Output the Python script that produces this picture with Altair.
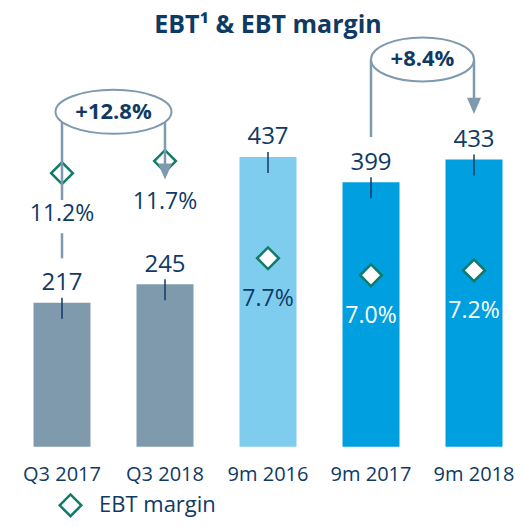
import altair as alt
import pandas as pd

# ---- data ----
categories = ["Q3 2017", "Q3 2018", "9m 2016", "9m 2017", "9m 2018"]
ebt = [217, 245, 437, 399, 433]
ebt_margin = [11.2, 11.7, 7.7, 7.0, 7.2]
bar_colors = ["#7f9aad", "#7f9aad", "#7fcdee", "#009fdf", "#009fdf"]

growth_labels = ["+12.8%", "+8.4%"]
growth_from = ["Q3 2017", "9m 2017"]
growth_level = [505, 584]  # height (EBT scale) of the growth ovals

bracket_cat = ["Q3 2017", "Q3 2017", "Q3 2018", "9m 2017", "9m 2018"]
bracket_top = [505, 322, 505, 584, 584]
bracket_bottom = [372, 284, 415, 467, 514]
arrow_cat = ["Q3 2018", "9m 2018"]
arrow_level = [415, 514]

NAVY = "#0f3a63"
GREY = "#7f9aad"
TEAL = "#0f7b68"
FONT = "Open Sans"


def ellipse_path(q, k=0.5523):
    a = k * q
    return (f"M -1 0 C -1 {-a} {-k} {-q} 0 {-q} C {k} {-q} 1 {-a} 1 0 "
            f"C 1 {a} {k} {q} 0 {q} C {-k} {q} -1 {a} -1 0 Z")


df = pd.DataFrame({
    "cat": categories,
    "ebt": ebt,
    "margin": ebt_margin,
    "label": [f"{m:.1f}%" for m in ebt_margin],
    "series": ["EBT margin"] * len(categories),
})
brackets = pd.DataFrame({"cat": bracket_cat, "top": bracket_top, "bottom": bracket_bottom})
arrows = pd.DataFrame({"cat": arrow_cat, "lvl": arrow_level})
growth = pd.DataFrame({"cat": growth_from, "lvl": growth_level, "txt": growth_labels})

xenc = alt.X(
    "cat:N", sort=categories,
    scale=alt.Scale(domain=categories, paddingInner=0.4466, paddingOuter=0.102),
    axis=alt.Axis(title=None, domain=False, ticks=False, labelAngle=0, labelFont=FONT,
                  labelFontSize=20, labelColor=NAVY, labelPadding=18),
)
yscale = alt.Scale(domain=[0, 600])
mscale = alt.Scale(domain=[-0.06, 16.32])

base = alt.Chart(df)

bars = base.mark_bar().encode(
    x=xenc,
    y=alt.Y("ebt:Q", scale=yscale, axis=None),
    color=alt.Color("cat:N", scale=alt.Scale(domain=categories, range=bar_colors), legend=None),
)
leaders = base.mark_rule(color=NAVY, strokeWidth=1.5, yOffset=-5, y2Offset=16).encode(
    x=xenc, y=alt.Y("ebt:Q", scale=yscale, axis=None), y2=alt.Y2("ebt:Q")
)
values = base.mark_text(dy=-19.5, fontSize=24, font=FONT, color=NAVY, baseline="middle").encode(
    x=xenc, y=alt.Y("ebt:Q", scale=yscale, axis=None), text="ebt:Q"
)
diamond_fill = base.mark_point(shape="diamond", filled=True, color="white", size=470, opacity=1).encode(
    x=xenc, y=alt.Y("margin:Q", scale=mscale, axis=None)
)
diamonds = base.mark_point(filled=False, color=TEAL, strokeWidth=2.5, size=470, opacity=1).encode(
    x=xenc,
    y=alt.Y("margin:Q", scale=mscale, axis=None),
    shape=alt.Shape(
        "series:N", scale=alt.Scale(range=["diamond"]),
        legend=alt.Legend(title=None, orient="none", legendX=35, legendY=444,
                          symbolStrokeColor=TEAL, symbolStrokeWidth=2.5,
                          symbolSize=470, labelFont=FONT, labelFontSize=22, labelColor=NAVY,
                          labelOffset=16),
    ),
)
mlabels = base.mark_text(dy=41, fontSize=23, font=FONT, baseline="middle").encode(
    x=xenc,
    y=alt.Y("margin:Q", scale=mscale, axis=None),
    text="label:N",
    color=alt.condition(alt.FieldOneOfPredicate(field="cat", oneOf=["9m 2017", "9m 2018"]),
                        alt.value("white"), alt.value(NAVY)),
)
bracket_lines = alt.Chart(brackets).mark_rule(color=GREY, strokeWidth=2.5).encode(
    x=xenc, y=alt.Y("top:Q", scale=yscale, axis=None), y2="bottom:Q"
)
arrow_heads = alt.Chart(arrows).mark_point(
    shape="M -1 -1.15 L 1 -1.15 L 0 1.15 Z", filled=True, color=GREY, size=196, opacity=1
).encode(x=xenc, y=alt.Y("lvl:Q", scale=yscale, axis=None))

oval1 = alt.Chart(growth.iloc[[0]]).mark_point(
    shape=ellipse_path(0.379),
    filled=True, fill="white", stroke=GREY, strokeWidth=2, size=13456, opacity=1, xOffset=51.5,
).encode(x=xenc, y=alt.Y("lvl:Q", scale=yscale, axis=None))
oval2 = alt.Chart(growth.iloc[[1]]).mark_point(
    shape=ellipse_path(0.427),
    filled=True, fill="white", stroke=GREY, strokeWidth=2, size=10609, opacity=1, xOffset=51.5,
).encode(x=xenc, y=alt.Y("lvl:Q", scale=yscale, axis=None))
growth_text = alt.Chart(growth).mark_text(
    fontWeight="bold", fontSize=22, font=FONT, color=NAVY, baseline="middle", xOffset=51.5
).encode(x=xenc, y=alt.Y("lvl:Q", scale=yscale, axis=None), text="txt:N")

chart = alt.layer(
    bars, leaders, values, diamond_fill, diamonds, mlabels, bracket_lines, arrow_heads,
    oval1, oval2, growth_text
).resolve_scale(y="independent").properties(
    width=490,
    height=398,
    autosize=alt.AutoSizeParams(type="none"),
    padding={"left": 15, "top": 40.8, "right": 2, "bottom": 71.2},
    title=alt.TitleParams("EBT¹ & EBT margin", font=FONT, fontSize=25, fontWeight="bold",
                          color=NAVY, anchor="middle", baseline="alphabetic", offset=-24.5),
).configure_view(stroke=None)

chart.save("out.html", embed_options={"renderer": "svg", "actions": False})
